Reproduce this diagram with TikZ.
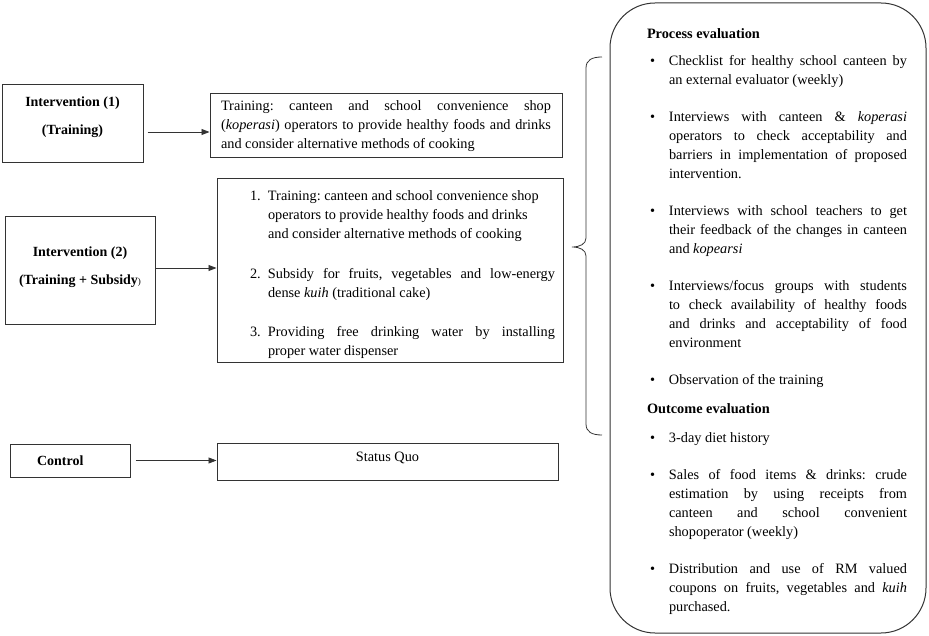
\documentclass[tikz,border=0pt]{standalone}
\usepackage{fontspec}
\setmainfont{Liberation Serif}
\usetikzlibrary{arrows.meta,positioning}

% numbered and bulleted lines inside the boxes
\newcommand{\numitem}[2]{\par\noindent\hangindent=43pt\hangafter=0\llap{\makebox[18pt][l]{#1}}#2\par}
\newcommand{\bulletitem}[1]{\par\noindent\hangindent=22pt\hangafter=0\llap{\makebox[19pt][l]{\textbullet}}#1\par}
\newcommand{\raggedbreak}{\hfill\break}
\newcommand{\nohyph}{\hyphenpenalty=10000\relax}

\begin{document}
\frenchspacing
\begin{tikzpicture}[
  x=1pt,
  y=-1pt,
  groupbox/.style={
    rectangle,
    draw=black!80,
    line width=1pt,
    fill=white,
    align=center,
    font=\fontsize{14}{19}\selectfont\bfseries
  },
  textbox/.style={
    rectangle,
    draw=black!80,
    line width=1pt,
    fill=white,
    font=\fontsize{14.3}{19}\selectfont
  },
  roundbox/.style={
    rectangle,
    rounded corners=45pt,
    draw=black!80,
    line width=1pt,
    minimum width=316pt,
    minimum height=630pt,
    inner sep=0pt,
    text width=278pt,
    align=justify,
    font=\fontsize{14.3}{19}\selectfont
  },
  arrow/.style={
    -{Triangle[length=8pt,width=6pt]},
    line width=0.8pt,
    draw=black!80
  }
]
\useasboundingbox (0,0) rectangle (929,636);

% Intervention (1)
\node[groupbox, minimum width=141pt, minimum height=78pt, text depth=17pt] (i1) at (72.5,124) {Intervention (1)\\[9pt](Training)};
\node[textbox, align=justify, text width=330pt, inner xsep=11pt, minimum height=64pt] (t1) at (386,126) {\nohyph Training: canteen and school convenience shop\linebreak (\textit{koperasi}) operators to provide healthy foods and drinks\linebreak and consider alternative methods of cooking};

% Intervention (2)
\node[groupbox, minimum width=150pt, minimum height=108pt, text depth=11pt] (i2) at (80,271) {Intervention (2)\\[9pt](Training + Subsidy{\mdseries\small)}};
\node[textbox, align=justify, text width=330pt, inner xsep=8pt, minimum height=175pt] (t2) at (390,270.5) {\nohyph
  \numitem{1.}{Training: canteen and school convenience shop\raggedbreak operators to provide healthy foods and drinks\raggedbreak and consider alternative methods of cooking}\vspace{21pt}
  \numitem{2.}{Subsidy for fruits, vegetables and low-energy\linebreak dense \textit{kuih} (traditional cake)}\vspace{20pt}
  \numitem{3.}{Providing free drinking water by installing\linebreak proper water dispenser}};

% Control
\node[groupbox, align=left, text width=66pt, inner xsep=27pt, minimum height=33pt] (ctrl) at (70,460.5) {Control};
\node[textbox, minimum width=341pt, minimum height=37pt, text depth=9pt] (quo) at (387.5,461.5) {Status Quo};

% Arrows
\draw[arrow] ([xshift=4pt,yshift=-8pt]i1.east) -- ([yshift=-8pt]i1.east -| t1.west);
\draw[arrow] ([yshift=3pt]i2.east) -- ([yshift=3pt]i2.east -| t2.west);
\draw[arrow] ([xshift=5pt]ctrl.east) -- (ctrl.east -| quo.west);

% Brace
\draw[line width=0.8pt, draw=black!80] (602,57) .. controls (592,57) and (586,60) .. (586,68) -- (586,238)
  .. controls (586,244) and (580,247) .. (572,247) .. controls (580,247) and (586,250) .. (586,256)
  -- (586,424) .. controls (586,432) and (592,435) .. (602,435);

% Evaluation
\node[roundbox] (eval) at (768,318) {\leftskip=18pt\nohyph
  \rule{0pt}{18pt}\textbf{Process evaluation}\par\vspace{8pt}
  \bulletitem{Checklist for healthy school canteen by\linebreak an external evaluator (weekly)}\vspace{18pt}
  \bulletitem{Interviews with canteen \& \textit{koperasi}\linebreak operators to check acceptability and\linebreak barriers in implementation of proposed\linebreak intervention.}\vspace{18pt}
  \bulletitem{Interviews with school teachers to get\linebreak their feedback of the changes in canteen\linebreak and \textit{kopearsi}}\vspace{18pt}
  \bulletitem{Interviews/focus groups with students\linebreak to check availability of healthy foods\linebreak and drinks and acceptability of food\linebreak environment}\vspace{18pt}
  \bulletitem{Observation of the training}\vspace{10pt}
  \noindent\textbf{Outcome evaluation}\par\vspace{10pt}
  \bulletitem{3-day diet history}\vspace{18pt}
  \bulletitem{Sales of food items \& drinks: crude\linebreak estimation by using receipts from\linebreak canteen and school convenient\linebreak shopoperator (weekly)}\vspace{18pt}
  \bulletitem{Distribution and use of RM valued\linebreak coupons on fruits, vegetables and \textit{kuih}\linebreak purchased.}};

\end{tikzpicture}
\end{document}
